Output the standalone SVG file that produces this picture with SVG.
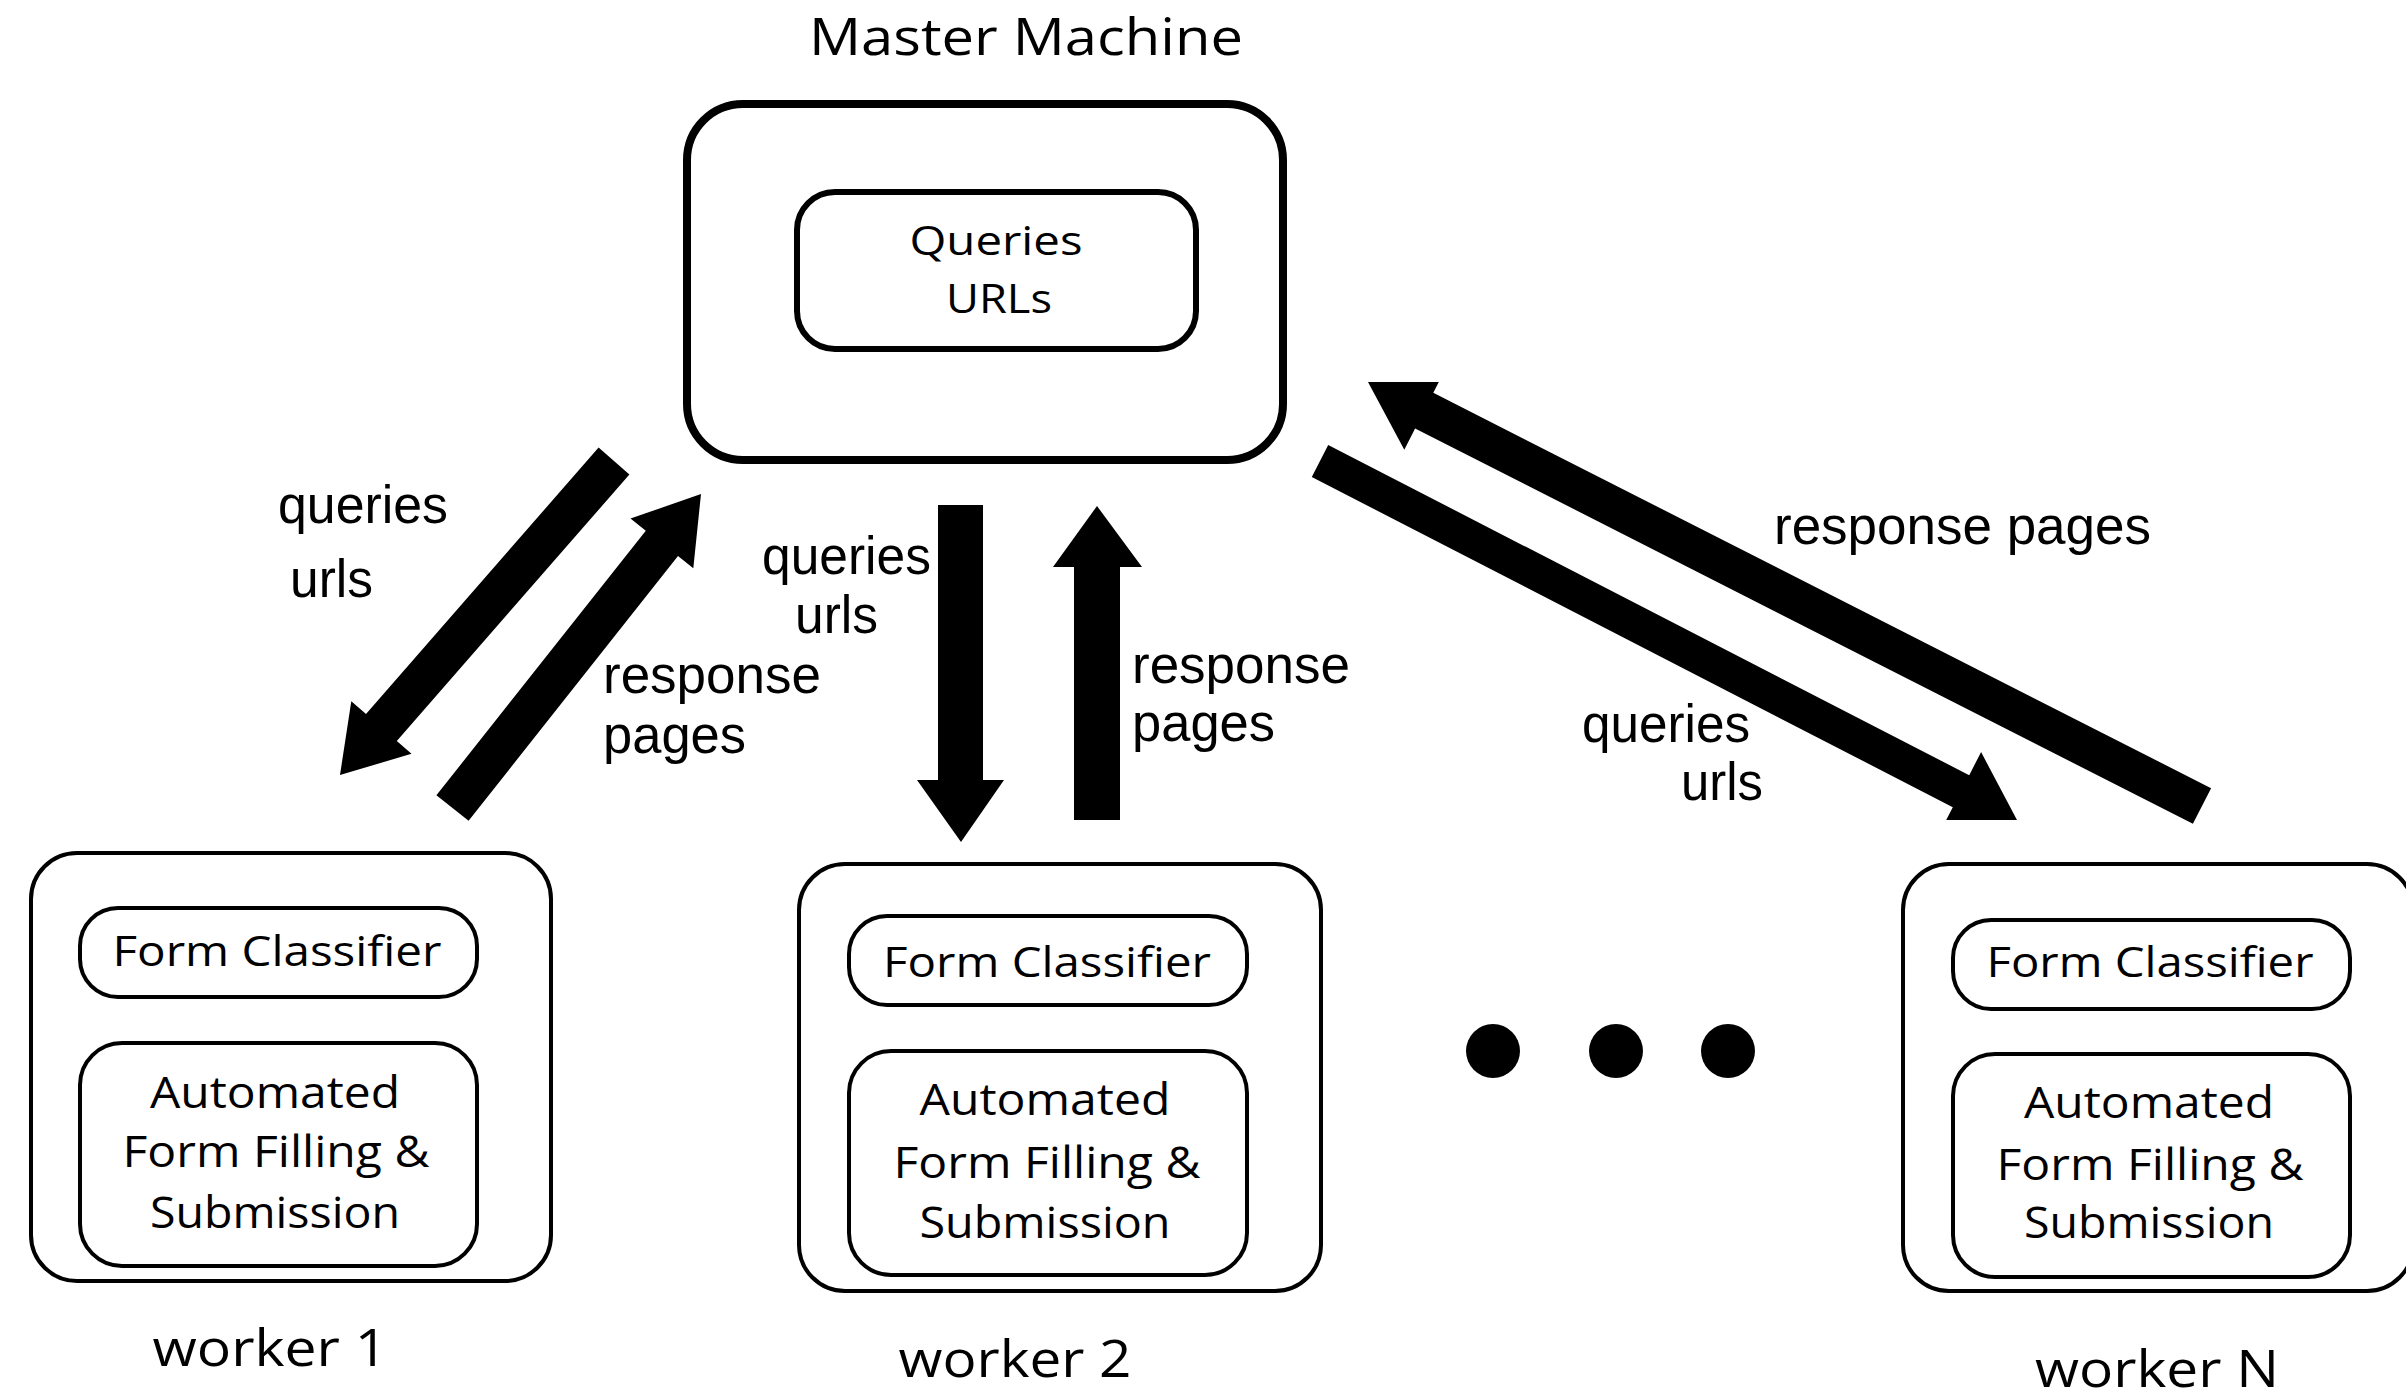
<svg xmlns="http://www.w3.org/2000/svg" width="2406" height="1389" viewBox="0 0 2406 1389">
  <style>
    .bg { fill: #ffffff; }
    .master { fill: none; stroke: #000; stroke-width: 8; }
    .master-inner { fill: none; stroke: #000; stroke-width: 6; }
    .box { fill: none; stroke: #000; stroke-width: 4; }
    .ui { font-family: "Open Sans", "Noto Sans", "DejaVu Sans", sans-serif; fill: #000; text-anchor: middle; }
    .lbl { font-family: "Liberation Sans", Arial, sans-serif; font-size: 53px; fill: #000; }
    .arrow { fill: #000; stroke: none; }
    .dot { fill: #000; }
  </style>

  <rect class="bg" x="0" y="0" width="2406" height="1389"/>

  <!-- Master node -->
  <g id="master">
    <text class="ui" x="1026" y="55" font-size="52" textLength="434" lengthAdjust="spacingAndGlyphs">Master Machine</text>
    <rect class="master" x="687" y="104" width="596" height="356" rx="56" ry="56"/>
    <g id="master-store">
      <rect class="master-inner" x="797" y="192" width="399" height="157" rx="38" ry="38"/>
      <text class="ui" x="996" y="255" font-size="40" textLength="173" lengthAdjust="spacingAndGlyphs">Queries</text>
      <text class="ui" x="999" y="313" font-size="40" textLength="106" lengthAdjust="spacingAndGlyphs">URLs</text>
    </g>
  </g>

  <!-- Worker 1 -->
  <g id="worker1">
    <rect class="box" x="31" y="853" width="520" height="428" rx="46" ry="46"/>
    <rect class="box" x="80" y="908" width="397" height="89" rx="38" ry="38"/>
    <text class="ui" x="277" y="966" font-size="42" textLength="329" lengthAdjust="spacingAndGlyphs">Form Classifier</text>
    <rect class="box" x="80" y="1043" width="397" height="223" rx="42" ry="42"/>
    <text class="ui" x="275" y="1108" font-size="43" textLength="250" lengthAdjust="spacingAndGlyphs">Automated</text>
    <text class="ui" x="276" y="1167" font-size="43" textLength="307" lengthAdjust="spacingAndGlyphs">Form Filling &amp;</text>
    <text class="ui" x="275" y="1228" font-size="43" textLength="250" lengthAdjust="spacingAndGlyphs">Submission</text>
    <text class="ui" x="270" y="1366" font-size="52" textLength="235" lengthAdjust="spacingAndGlyphs">worker 1</text>
  </g>

  <!-- Worker 2 -->
  <g id="worker2">
    <rect class="box" x="799" y="864" width="522" height="427" rx="46" ry="46"/>
    <rect class="box" x="849" y="916" width="398" height="89" rx="38" ry="38"/>
    <text class="ui" x="1047" y="977" font-size="42" textLength="328" lengthAdjust="spacingAndGlyphs">Form Classifier</text>
    <rect class="box" x="849" y="1051" width="398" height="224" rx="42" ry="42"/>
    <text class="ui" x="1045" y="1115" font-size="43" textLength="251" lengthAdjust="spacingAndGlyphs">Automated</text>
    <text class="ui" x="1047" y="1178" font-size="43" textLength="307" lengthAdjust="spacingAndGlyphs">Form Filling &amp;</text>
    <text class="ui" x="1045" y="1238" font-size="43" textLength="251" lengthAdjust="spacingAndGlyphs">Submission</text>
    <text class="ui" x="1015" y="1377" font-size="52" textLength="233" lengthAdjust="spacingAndGlyphs">worker 2</text>
  </g>

  <!-- Worker N (runs past the right edge) -->
  <g id="workerN">
    <rect class="box" x="1903" y="864" width="510" height="427" rx="46" ry="46"/>
    <rect class="box" x="1953" y="920" width="397" height="89" rx="38" ry="38"/>
    <text class="ui" x="2150" y="977" font-size="42" textLength="327" lengthAdjust="spacingAndGlyphs">Form Classifier</text>
    <rect class="box" x="1953" y="1054" width="397" height="223" rx="42" ry="42"/>
    <text class="ui" x="2149" y="1118" font-size="43" textLength="250" lengthAdjust="spacingAndGlyphs">Automated</text>
    <text class="ui" x="2150" y="1180" font-size="43" textLength="307" lengthAdjust="spacingAndGlyphs">Form Filling &amp;</text>
    <text class="ui" x="2149" y="1238" font-size="43" textLength="250" lengthAdjust="spacingAndGlyphs">Submission</text>
    <text class="ui" x="2157" y="1387" font-size="52" textLength="244" lengthAdjust="spacingAndGlyphs">worker N</text>
  </g>

  <!-- Ellipsis between worker 2 and worker N -->
  <g id="ellipsis">
    <circle class="dot" cx="1493" cy="1051" r="27"/>
    <circle class="dot" cx="1616" cy="1051" r="27"/>
    <circle class="dot" cx="1728" cy="1051" r="27"/>
  </g>

  <!-- Block arrows between master and workers -->
  <g id="connectors">
    <!-- master -> worker 1 -->
    <polygon class="arrow" points="598.6,447.5 366.0,714.0 351.3,701.2 340,775 411.5,753.8 396.8,741.0 629.4,474.5"/>
    <!-- worker 1 -> master -->
    <polygon class="arrow" points="468.6,820.7 678.0,556.1 693.3,568.2 701,494 630.5,518.6 645.8,530.7 436.4,795.3"/>
    <!-- master -> worker 2 -->
    <polygon class="arrow" points="938,505 983,505 983,780 1004,780 961,842 917,780 938,780"/>
    <!-- worker 2 -> master -->
    <polygon class="arrow" points="1074,820 1120,820 1120,567 1142,567 1097,506 1053,567 1074,567"/>
    <!-- master -> worker N -->
    <polygon class="arrow" points="1328.2,445.0 1969.2,775.2 1981.1,752.1 2017,820 1946.2,820 1952.8,807.2 1311.8,477.0"/>
    <!-- worker N -> master -->
    <polygon class="arrow" points="2211.1,788.2 1433.3,392.8 1438.8,382 1368,382 1404.3,449.8 1415.1,428.4 2192.9,823.8"/>

    <!-- connector labels -->
    <text class="lbl" x="278" y="523" textLength="170" lengthAdjust="spacingAndGlyphs">queries</text>
    <text class="lbl" x="290" y="597" textLength="83" lengthAdjust="spacingAndGlyphs">urls</text>
    <text class="lbl" x="603" y="693" textLength="218" lengthAdjust="spacingAndGlyphs">response</text>
    <text class="lbl" x="603" y="753" textLength="143" lengthAdjust="spacingAndGlyphs">pages</text>

    <text class="lbl" x="762" y="574" textLength="169" lengthAdjust="spacingAndGlyphs">queries</text>
    <text class="lbl" x="795" y="633" textLength="83" lengthAdjust="spacingAndGlyphs">urls</text>
    <text class="lbl" x="1132" y="683" textLength="218" lengthAdjust="spacingAndGlyphs">response</text>
    <text class="lbl" x="1132" y="741" textLength="143" lengthAdjust="spacingAndGlyphs">pages</text>

    <text class="lbl" x="1582" y="742" textLength="168" lengthAdjust="spacingAndGlyphs">queries</text>
    <text class="lbl" x="1681" y="800" textLength="82" lengthAdjust="spacingAndGlyphs">urls</text>
    <text class="lbl" x="1774" y="544" textLength="377" lengthAdjust="spacingAndGlyphs">response pages</text>
  </g>
</svg>
